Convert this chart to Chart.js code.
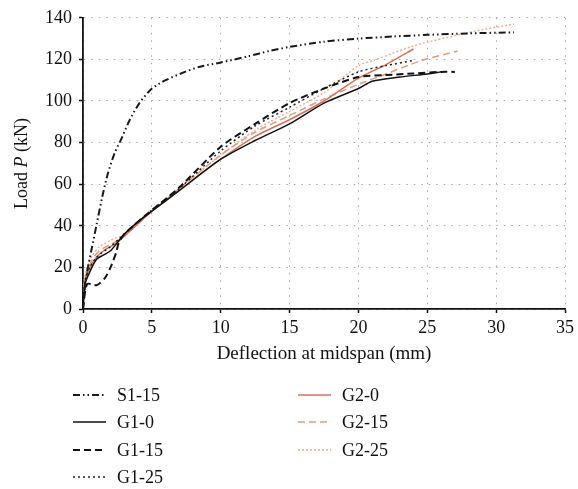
<!DOCTYPE html>
<html>
<head>
<meta charset="utf-8">
<script src="https://cdn.jsdelivr.net/npm/chart.js@4.4.0/dist/chart.umd.min.js"></script>
<style>
  html, body { margin: 0; padding: 0; background: #fff; }
  #wrap { width: 578px; height: 489px; position: relative; }
</style>
</head>
<body>
<div id="wrap"><canvas id="loadChart"></canvas></div>
<script>
// Load-deflection curves (deflection in mm, load in kN)
const s115X = [0, 0.1, 0.3, 0.6, 1.0, 1.4, 1.8, 2.3, 2.8, 3.4, 4.1, 5.0, 6.0, 7.4, 8.5, 10, 12, 13.5, 15, 17.5, 20, 22.5, 25, 28, 31.3];
const s115Y = [0, 8, 18, 28, 41, 54, 65, 75, 82, 91, 99, 106, 110, 114, 116.5, 118.5, 121.5, 124, 126, 128.5, 130, 131, 131.8, 132.5, 133];

const g10X = [0, 0.15, 0.5, 1.0, 1.5, 2.0, 2.5, 3.0, 4.0, 5.0, 7.0, 10, 12.5, 15, 17.5, 20, 21, 23, 25, 26];
const g10Y = [0, 12, 18, 24, 26, 28, 32, 36, 42, 47, 57, 72, 81, 89, 99, 106, 109.5, 111.5, 113, 114];

const g115X = [0, 0.3, 1.0, 1.6, 2.0, 2.4, 2.6, 3.0, 4.0, 5.0, 7.0, 10, 12.5, 15, 17.5, 20, 22, 24, 26, 27];
const g115Y = [0, 12, 11.5, 15, 20, 27, 32, 36, 42, 47.5, 58.5, 78, 89, 99, 106, 111.5, 112.5, 113.2, 114, 114];

const g125X = [0, 0.15, 0.5, 1.0, 2.0, 3.0, 4.0, 5.0, 7.0, 10, 12.5, 15, 17.5, 20, 22, 24];
const g125Y = [0, 14, 20, 25, 30, 36, 42, 47.5, 58, 76, 88, 97, 106, 114, 117, 119.5];

const g20X = [0, 0.1, 0.2, 0.5, 1.0, 1.5, 2.0, 2.5, 3.0, 4.0, 5.0, 7.0, 10, 12.5, 15, 17.5, 20, 22, 24];
const g20Y = [0, 10, 15, 20, 25, 28, 30, 32, 35, 41, 47, 57, 72, 83, 91, 100, 111, 117.5, 125];

const g215X = [0, 0.1, 0.3, 0.7, 1.2, 2.0, 3.0, 4.0, 5.0, 7.0, 10, 12.5, 15, 17.5, 20, 22, 24.6, 27.2];
const g215Y = [0, 12, 18, 24, 28, 31, 35, 41, 47, 58, 74, 85, 93, 101, 108, 113, 119.5, 124];

const g225X = [0, 0.1, 0.3, 0.7, 1.2, 2.0, 3.0, 4.0, 5.0, 7.0, 10, 12.5, 15, 17.5, 20, 21.3, 24, 28.4, 31.3];
const g225Y = [0, 14, 20, 26, 30, 33, 36, 42, 47, 58, 74, 86, 95, 104, 117, 120, 126.5, 133.5, 137];

const xTicks = [0, 5, 10, 15, 20, 25, 30, 35];
const yTicks = [0, 20, 40, 60, 80, 100, 120, 140];

const serif = '"Liberation Serif", "Times New Roman", serif';

// zip x/y arrays into points
function pts(xs, ys) {
    return xs.map((x, i) => ({ x: x, y: ys[i] }));
}

// Series styles (legend column 0 = left, 1 = right)
const series = [
    { label: 'S1-15', data: pts(s115X, s115Y), color: '#1a1a1a', dash: [7, 3, 1.5, 3, 1.5, 3], width: 2, col: 0 },
    { label: 'G1-0', data: pts(g10X, g10Y), color: '#111111', dash: [], width: 1.5, col: 0 },
    { label: 'G1-15', data: pts(g115X, g115Y), color: '#111111', dash: [7, 4], width: 2, col: 0 },
    { label: 'G1-25', data: pts(g125X, g125Y), color: '#222222', dash: [2, 3], width: 1.5, col: 0 },
    { label: 'G2-0', data: pts(g20X, g20Y), color: '#d8705a', dash: [], width: 1.5, col: 1 },
    { label: 'G2-15', data: pts(g215X, g215Y), color: '#e39a7c', dash: [7, 4], width: 1.5, col: 1 },
    { label: 'G2-25', data: pts(g225X, g225Y), color: '#eeb092', dash: [2, 2], width: 1.5, col: 1 }
];

// Legend + italic y title drawn onto the canvas
const extrasPlugin = {
    id: 'extras',
    afterDraw(chart) {
        const ctx = chart.ctx;
        const area = chart.chartArea;
        ctx.save();

        // y axis title: "Load P (kN)" with italic P
        ctx.fillStyle = '#111';
        ctx.textBaseline = 'middle';
        ctx.translate(22, (area.top + area.bottom) / 2);
        ctx.rotate(-Math.PI / 2);
        const parts = [['Load ', 'normal'], ['P', 'italic'], [' (kN)', 'normal']];
        let total = 0;
        parts.forEach(p => {
            ctx.font = p[1] + ' 18px ' + serif;
            total += ctx.measureText(p[0]).width;
        });
        let tx = -total / 2;
        parts.forEach(p => {
            ctx.font = p[1] + ' 18px ' + serif;
            ctx.textAlign = 'left';
            ctx.fillText(p[0], tx, 0);
            tx += ctx.measureText(p[0]).width;
        });
        ctx.restore();

        // two-column legend below the axis title
        ctx.save();
        ctx.font = '18px ' + serif;
        ctx.textBaseline = 'middle';
        ctx.textAlign = 'left';
        const colX = [73, 298];
        const rowY = [395, 422, 450, 477];
        const rowIdx = [0, 0];
        chart.data.datasets.forEach((ds, i) => {
            const s = series[i];
            const x0 = colX[s.col];
            const y = rowY[rowIdx[s.col]++];
            ctx.beginPath();
            ctx.setLineDash(s.dash);
            ctx.lineWidth = s.width;
            ctx.strokeStyle = s.color;
            ctx.moveTo(x0, y);
            ctx.lineTo(x0 + 33, y);
            ctx.stroke();
            ctx.setLineDash([]);
            ctx.fillStyle = '#111';
            ctx.fillText(ds.label, x0 + 44, y + 1);
        });
        ctx.restore();
    }
};

const chart = new Chart(document.getElementById('loadChart').getContext('2d'), {
    type: 'scatter',
    data: {
        datasets: series.map(s => ({
            label: s.label,
            data: s.data,
            showLine: true,
            borderColor: s.color,
            backgroundColor: s.color,
            borderWidth: s.width,
            borderDash: s.dash,
            pointRadius: 0,
            tension: 0.25,
            fill: false
        }))
    },
    options: {
        responsive: true,
        maintainAspectRatio: false,
        animation: false,
        layout: { padding: { left: 0, top: 15, right: 7, bottom: 120 } },
        plugins: {
            legend: { display: false },
            tooltip: { enabled: false }
        },
        scales: {
            x: {
                type: 'linear',
                min: 0,
                max: 35,
                afterBuildTicks: axis => { axis.ticks = xTicks.map(v => ({ value: v })); },
                afterFit: axis => { axis.height = 60; },
                grid: {
                    color: '#a8a8a8',
                    lineWidth: 1,
                    tickColor: '#111',
                    tickLength: 4,
                    tickBorderDash: [],
                    tickWidth: 1.5
                },
                border: { display: true, color: '#111', width: 1.8, dash: [1.5, 6] },
                ticks: {
                    color: '#111',
                    padding: 4,
                    maxRotation: 0,
                    font: { family: serif, size: 18 }
                },
                title: {
                    display: true,
                    text: 'Deflection at midspan (mm)',
                    color: '#111',
                    padding: { top: 0, bottom: 4 },
                    font: { family: serif, size: 19 }
                }
            },
            y: {
                min: 0,
                max: 140,
                afterBuildTicks: axis => { axis.ticks = yTicks.map(v => ({ value: v })); },
                afterFit: axis => { axis.width = 83; },
                grid: {
                    color: '#a8a8a8',
                    lineWidth: 1,
                    tickColor: '#111',
                    tickLength: 4,
                    tickBorderDash: [],
                    tickWidth: 1.5
                },
                border: { display: true, color: '#111', width: 1.8, dash: [1.5, 6] },
                ticks: {
                    color: '#111',
                    padding: 7,
                    font: { family: serif, size: 18 }
                },
                title: { display: false }
            }
        }
    },
    plugins: [extrasPlugin]
});
</script>
</body>
</html>
